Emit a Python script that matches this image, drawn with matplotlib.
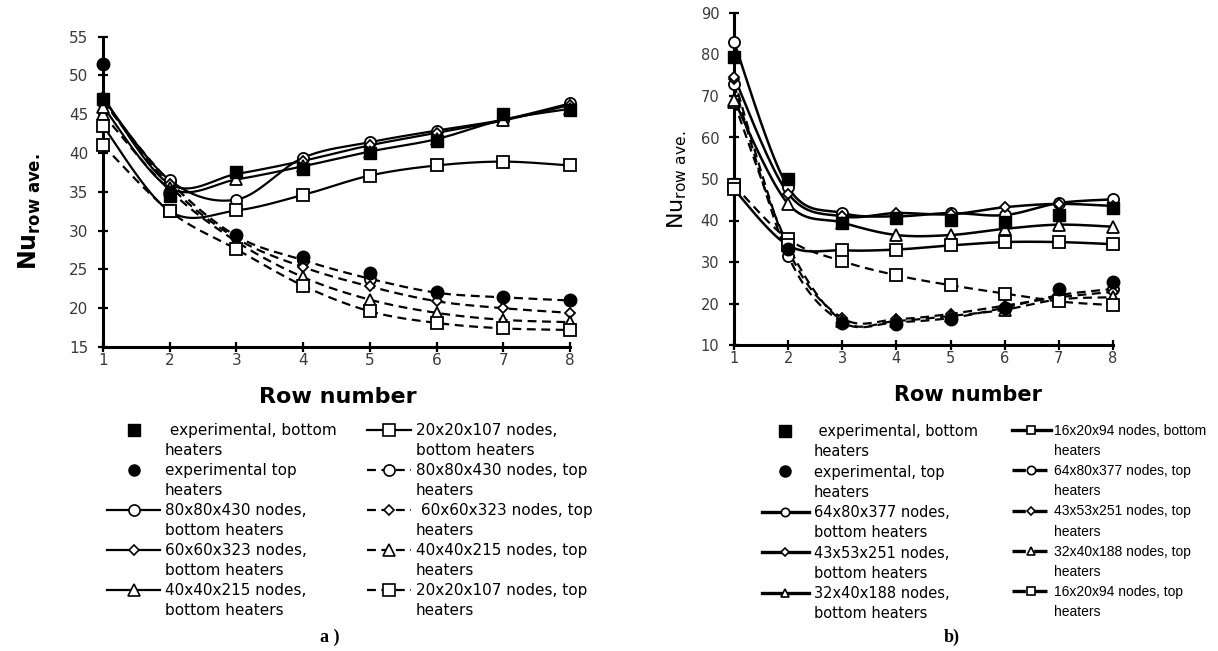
import numpy as np
import matplotlib
matplotlib.use("Agg")
import matplotlib.pyplot as plt
from matplotlib.lines import Line2D

# Datos (Nu promedio por fila)
filas = [1, 2, 3, 4, 5, 6, 7, 8]

# a) malla 80x80x430 ... 20x20x107
a_exp_inf = [47, 34.5, 37.5, 38, 40, 41.5, 45, 45.5]
a_exp_sup = [51.5, 35, 29.4, 26.6, 24.5, 22.1, 21.5, 21]
a_80_inf = [47, 36.5, 34, 39.4, 41.4, 42.9, 44.3, 46.4]
a_60_inf = [47.2, 36, 37.3, 39, 41, 42.6, 44.2, 46.2]
a_40_inf = [46, 35.5, 36.6, 38.3, 40.2, 41.8, 44.3, 45.7]
a_20_inf = [43.5, 32.5, 32.6, 34.6, 37.1, 38.4, 38.9, 38.4]
a_80_sup = [46.6, 36.3, 29.3, 26.2, 23.8, 22, 21.4, 21]
a_60_sup = [46.8, 35.8, 29, 25.3, 22.8, 20.9, 20, 19.4]
a_40_sup = [45, 35.2, 28.6, 24, 21.1, 19.4, 18.5, 18.2]
a_20_sup = [41, 32.5, 27.6, 22.9, 19.6, 18.1, 17.4, 17.2]

# b) malla 64x80x377 ... 16x20x94
b_exp_inf = [79.5, 50, 39.4, 40.5, 40.1, 39.7, 41.3, 42.9]
b_exp_sup = [np.nan, 33.2, 15.2, 15, 16.2, 18.8, 23.6, 25.2]
b_64_inf = [83, 48, 41.8, 41, 41.8, 41.3, 44.2, 45.1]
b_43_inf = [74.6, 46.5, 41, 41.8, 41.5, 43.2, 44, 43.5]
b_32_inf = [69, 44, 39.5, 36.5, 36.5, 38, 39, 38.5]
b_16_inf = [47.5, 34, 32.8, 33, 34, 34.8, 34.8, 34.3]
b_64_sup = [72.8, 31.5, 15.5, 15.5, 16.5, 19, 22, 23.5]
b_43_sup = [74, 33, 16.5, 16.2, 17.5, 19.5, 21.5, 22.8]
b_32_sup = [68.5, 34, 15.8, 15.8, 17, 18.5, 21, 21.5]
b_16_sup = [48.5, 35.5, 30.2, 26.8, 24.4, 22.4, 20.5, 19.6]

etiquetas_a_1 = [" experimental, bottom", "heaters", "experimental top", "heaters",
                 "80x80x430 nodes,", "bottom heaters", "60x60x323 nodes,", "bottom heaters",
                 "40x40x215 nodes,", "bottom heaters"]
etiquetas_a_2 = ["20x20x107 nodes,", "bottom heaters", "80x80x430 nodes, top", "heaters",
                 " 60x60x323 nodes, top", "heaters", "40x40x215 nodes, top", "heaters",
                 "20x20x107 nodes, top", "heaters"]
etiquetas_b_1 = [" experimental, bottom", "heaters", "experimental, top", "heaters",
                 "64x80x377 nodes,", "bottom heaters", "43x53x251 nodes,", "bottom heaters",
                 "32x40x188 nodes,", "bottom heaters"]
etiquetas_b_2 = ["16x20x94 nodes, bottom", "heaters", "64x80x377 nodes, top", "heaters",
                 "43x53x251 nodes, top", "heaters", "32x40x188 nodes, top", "heaters",
                 "16x20x94 nodes, top", "heaters"]

DASH = (0, (4, 2.5))
MARCAS = {"o": 8, "D": 5.5, "^": 8, "s": 8}


# Suavizado tipo Excel (Catmull-Rom) entre los puntos
def suavizar(x, y, n=20):
    p = np.column_stack([np.asarray(x, float), np.asarray(y, float)])
    p = np.vstack([p[0], p, p[-1]])
    t = np.linspace(0, 1, n, endpoint=False)[:, None]
    tramos = []
    for i in range(1, len(p) - 2):
        p0, p1, p2, p3 = p[i - 1], p[i], p[i + 1], p[i + 2]
        seg = 0.5 * (2 * p1 + (-p0 + p2) * t + (2 * p0 - 5 * p1 + 4 * p2 - p3) * t ** 2
                     + (-p0 + 3 * p1 - 3 * p2 + p3) * t ** 3)
        tramos.append(seg)
    tramos.append(p[-2][None])
    s = np.vstack(tramos)
    return s[:, 0], s[:, 1]


def serie(ax, y, marca, estilo, lw=1.6):
    xs, ys = suavizar(filas, y)
    ax.plot(xs, ys, color="k", ls=estilo, lw=lw, clip_on=False, zorder=2)
    ax.plot(filas, y, ls="none", marker=marca, ms=MARCAS[marca], mfc="white",
            mec="k", mew=1.3, clip_on=False, zorder=3)


def experimentales(ax, y_inf, y_sup):
    ax.plot(filas, y_inf, ls="none", marker="s", ms=9, color="k", clip_on=False, zorder=4)
    ax.plot(filas, y_sup, ls="none", marker="o", ms=9, color="k", clip_on=False, zorder=4)


def ejes(ax, ylim, paso, tam):
    ax.set_xlim(1, 8)
    ax.set_ylim(*ylim)
    ax.set_xticks(filas)
    ax.set_yticks(np.arange(ylim[0], ylim[1] + 1, paso))
    for lado in ["top", "right"]:
        ax.spines[lado].set_visible(False)
    for lado in ["left", "bottom"]:
        ax.spines[lado].set_linewidth(2.2)
    ax.tick_params(direction="inout", length=7, width=1.6, labelsize=tam,
                   labelcolor="#3a3a3a")
    ax.tick_params(axis="y", pad=7)
    ax.tick_params(axis="x", pad=1)


def manija(marca, estilo, lw=1.6, ms=None):
    if estilo is None:
        return Line2D([], [], ls="none", marker=marca, ms=ms or 8, color="k")
    return Line2D([], [], color="k", ls=estilo, lw=lw, marker=marca,
                  ms=ms or MARCAS[marca], mfc="white", mec="k", mew=1.2)


def leyenda(fig, manijas, etiquetas, x, y, largo, fuente, tam, sep=0.3, esp=0.15):
    vacio = Line2D([], [], ls="none")
    hs = []
    for h in manijas:
        hs += [h, vacio]
    fig.legend(hs, etiquetas, loc="upper left", bbox_to_anchor=(x, y), frameon=False,
               borderpad=0, borderaxespad=0, handlelength=largo, handletextpad=sep,
               labelspacing=esp, prop={"family": fuente, "size": tam})


fig = plt.figure(figsize=(12.18, 6.51), dpi=100)
W, H = 1218.0, 651.0

# ---- a) ----
ax1 = fig.add_axes([103 / W, 1 - 347 / H, 467 / W, 310.3 / H])
for y, m in [(a_80_sup, "o"), (a_60_sup, "D"), (a_40_sup, "^"), (a_20_sup, "s")]:
    serie(ax1, y, m, DASH)
for y, m in [(a_80_inf, "o"), (a_60_inf, "D"), (a_40_inf, "^"), (a_20_inf, "s")]:
    serie(ax1, y, m, "-")
experimentales(ax1, a_exp_inf, a_exp_sup)
ejes(ax1, (15, 55), 5, 11)
fig.text(338 / W, 1 - 397 / H, "Row number", ha="center", va="center",
         fontsize=16, fontweight="bold")
fig.text(30 / W, 1 - 212 / H, r"$\mathbf{Nu}_{\mathbf{row\ ave.}}$", rotation=90,
         ha="center", va="center", fontsize=17)

h1 = [manija("s", None), manija("o", None), manija("o", "-"), manija("D", "-"), manija("^", "-")]
h2 = [manija("s", "-"), manija("o", DASH), manija("D", DASH), manija("^", DASH), manija("s", DASH)]
leyenda(fig, h1, etiquetas_a_1, 107 / W, 1 - 423 / H, 3.5, ["DejaVu Sans"], 11, 0.3, 0.33)
leyenda(fig, h2, etiquetas_a_2, 367 / W, 1 - 423 / H, 2.9, ["DejaVu Sans"], 11, 0.3, 0.33)

# ---- b) ----
ax2 = fig.add_axes([734 / W, 1 - 345 / H, 379 / W, 332 / H])
for y, m in [(b_64_sup, "o"), (b_43_sup, "D"), (b_32_sup, "^"), (b_16_sup, "s")]:
    serie(ax2, y, m, DASH)
for y, m in [(b_64_inf, "o"), (b_43_inf, "D"), (b_32_inf, "^"), (b_16_inf, "s")]:
    serie(ax2, y, m, "-", lw=1.8)
experimentales(ax2, b_exp_inf, b_exp_sup)
ejes(ax2, (10, 90), 10, 10.5)
fig.text(968 / W, 1 - 395 / H, "Row number", ha="center", va="center",
         fontsize=15, fontweight="bold")
fig.text(677 / W, 1 - 180 / H, r"$\mathrm{Nu}_{\mathrm{row\ ave.}}$", rotation=90,
         ha="center", va="center", fontsize=16)

g1 = [manija("s", None), manija("o", None), manija("o", "-", 2.4, 6), manija("D", "-", 2.4, 4),
      manija("^", "-", 2.4, 6)]
g2 = [manija("s", "-", 2.4, 6), manija("o", DASH, 2.4, 6), manija("D", DASH, 2.4, 4),
      manija("^", DASH, 2.4, 6), manija("s", DASH, 2.4, 6)]
leyenda(fig, g1, etiquetas_b_1, 762 / W, 1 - 424 / H, 3.2, ["DejaVu Sans"], 10.5, 0.35, 0.36)
leyenda(fig, g2, etiquetas_b_2, 1012 / W, 1 - 424 / H, 2.8,
        ["Liberation Sans", "DejaVu Sans"], 10, 0.2, 0.44)

# etiquetas de los paneles
fig.text(330 / W, 1 - 637 / H, "a )", ha="center", va="center", fontsize=13,
         fontweight="bold", family=["Liberation Serif", "DejaVu Serif"])
fig.text(952 / W, 1 - 637 / H, "b)", ha="center", va="center", fontsize=13,
         fontweight="bold", family=["Liberation Serif", "DejaVu Serif"])

fig.savefig("out.png", dpi=100)
